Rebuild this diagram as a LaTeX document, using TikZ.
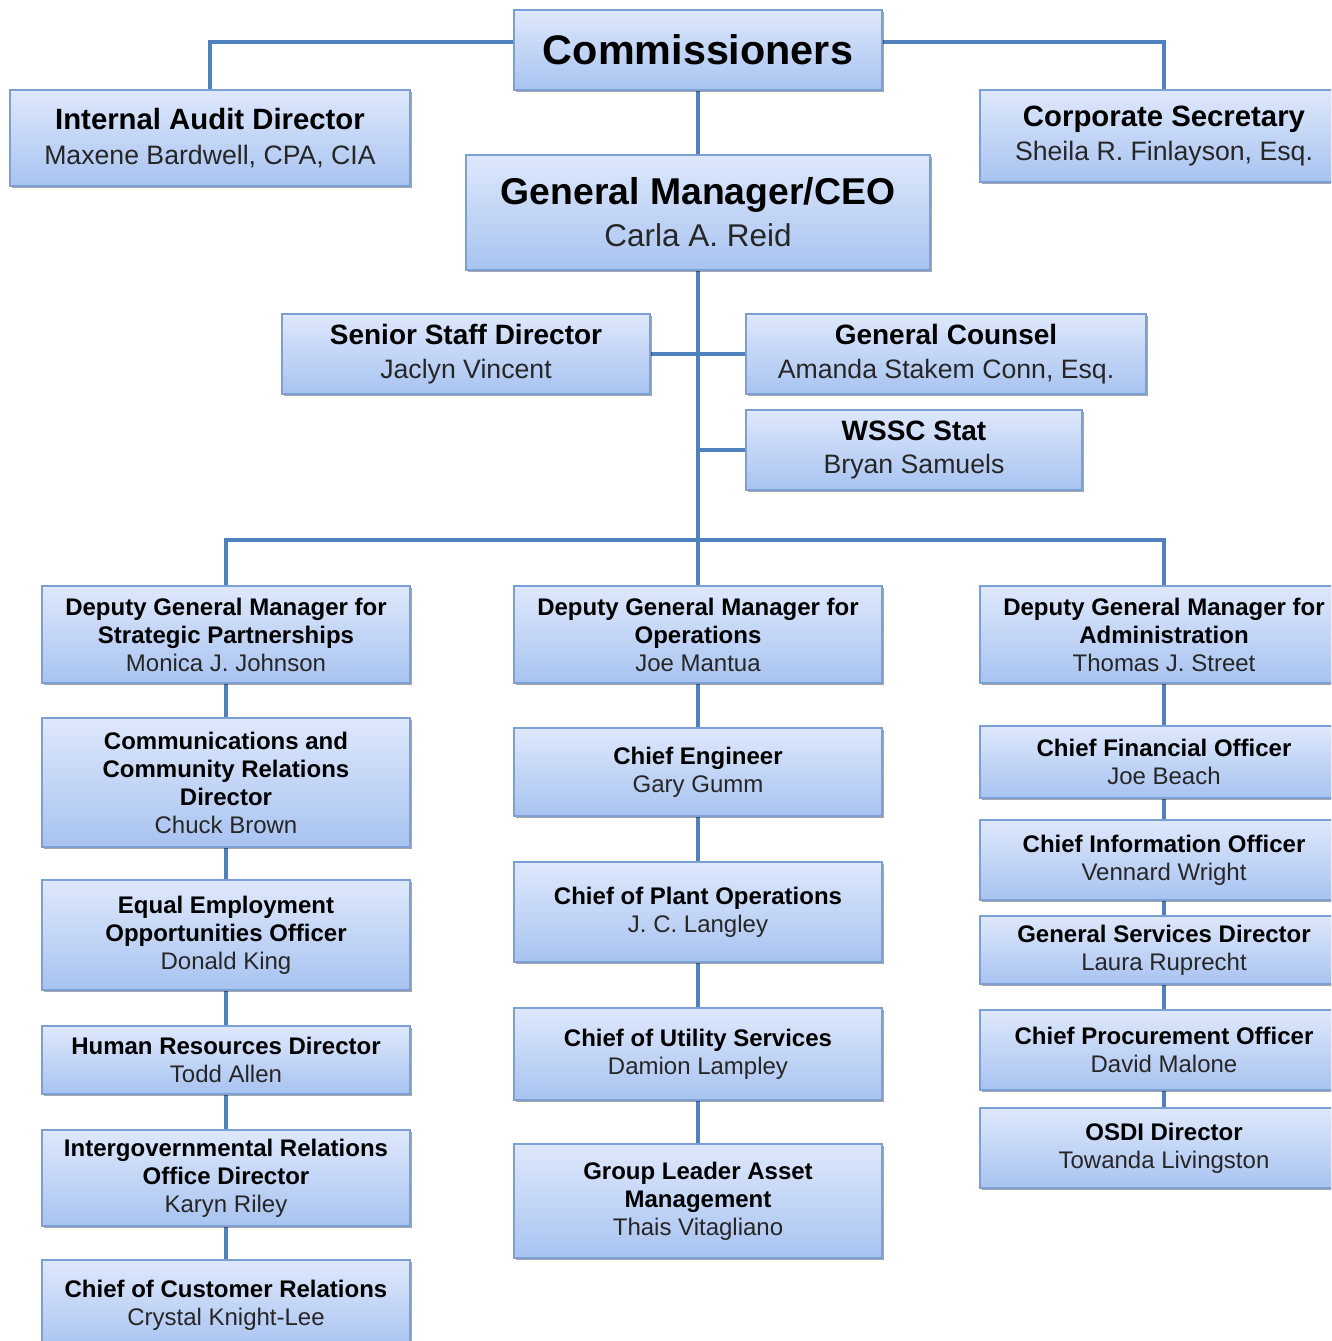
\documentclass[tikz,border=0pt]{standalone}
\usepackage{fontspec}
\setmainfont{Liberation Sans}
\usetikzlibrary{shadows}
\definecolor{btop}{HTML}{DEE8FB}
\definecolor{bbot}{HTML}{A8C3F1}
\definecolor{bline}{HTML}{7CA0D6}
\definecolor{conn}{HTML}{4F81BD}
\definecolor{nametext}{HTML}{262626}
\pgfdeclarelayer{bg}
\pgfsetlayers{bg,main}
\newcommand{\tbx}[1]{\textbf{#1}}
\newcommand{\nmx}[1]{\textcolor{nametext}{#1}}
\newcommand{\tbl}[1]{{\fontsize{22pt}{26pt}\selectfont\bfseries #1}}
\newcommand{\tbm}[1]{{\fontsize{21pt}{25pt}\selectfont\bfseries #1}}
\tikzset{
 box/.style={draw=bline, line width=1.2pt, top color=btop, bottom color=bbot,
   inner sep=0pt, align=center, text=black,
   drop shadow={shadow xshift=1.8pt, shadow yshift=-1.8pt, opacity=0.35, fill=black}},
 sz/.style 2 args={minimum width=#1*0.75pt, minimum height=#2*0.75pt},
 link/.style={draw=conn, line width=3.6pt},
 colf/.style={font=\fontsize{18pt}{21pt}\selectfont},
 topf/.style={font=\fontsize{20pt}{26pt}\selectfont},
 midf/.style={font=\fontsize{20pt}{25pt}\selectfont},
}
\begin{document}
\begin{tikzpicture}[x=0.75pt,y=-0.75pt]
\clip (0,0) rectangle (1331,1341);
% top
\node[box, sz={368}{80}, font=\fontsize{31pt}{36pt}\selectfont\bfseries] (comm) at (698,50) {Commissioners};
\node[box, sz={400}{96}, topf] (iad) at (210,138) {\tbl{Internal Audit Director}\\\nmx{Maxene Bardwell, CPA, CIA}};
\node[box, sz={368}{92}, topf] (cs) at (1164,136) {\tbl{Corporate Secretary}\\\nmx{Sheila R. Finlayson, Esq.}};
\node[box, sz={464}{115}, font=\fontsize{23.6pt}{31.5pt}\selectfont] (gm) at (698,212.5) {{\fontsize{28pt}{31.5pt}\selectfont\bfseries General Manager/CEO}\\\nmx{Carla A. Reid}};
\node[box, sz={368}{80}, midf] (ssd) at (466,354) {\tbm{Senior Staff Director}\\\nmx{Jaclyn Vincent}};
\node[box, sz={400}{80}, midf] (gc) at (946,354) {\tbm{General Counsel}\\\nmx{Amanda Stakem Conn, Esq.}};
\node[box, sz={336}{80}, midf] (wssc) at (914,450) {\tbm{WSSC Stat}\\\nmx{Bryan Samuels}};
\coordinate (bar) at (698,540);
% left column
\node[box, sz={368}{97}, colf] (dsp) at (226,634.5) {\tbx{Deputy General Manager for}\\\tbx{Strategic Partnerships}\\\nmx{Monica J. Johnson}};
\node[box, sz={368}{129}, colf] (ccr) at (226,782.5) {\tbx{Communications and}\\\tbx{Community Relations}\\\tbx{Director}\\\nmx{Chuck Brown}};
\node[box, sz={368}{110}, colf] (eeo) at (226,935) {\tbx{Equal Employment}\\\tbx{Opportunities Officer}\\\nmx{Donald King}};
\node[box, sz={368}{68}, colf] (hr) at (226,1060) {\tbx{Human Resources Director}\\\nmx{Todd Allen}};
\node[box, sz={368}{96}, colf] (igr) at (226,1178) {\tbx{Intergovernmental Relations}\\\tbx{Office Director}\\\nmx{Karyn Riley}};
\node[box, sz={368}{90}, colf] (cust) at (226,1305) {\tbx{Chief of Customer Relations}\\\nmx{Crystal Knight-Lee}};
% middle column
\node[box, sz={368}{97}, colf] (dops) at (698,634.5) {\tbx{Deputy General Manager for}\\\tbx{Operations}\\\nmx{Joe Mantua}};
\node[box, sz={368}{88}, colf] (ce) at (698,772) {\tbx{Chief Engineer}\\\nmx{Gary Gumm}};
\node[box, sz={368}{100}, colf] (cpo) at (698,912) {\tbx{Chief of Plant Operations}\\\nmx{J. C. Langley}};
\node[box, sz={368}{92}, colf] (cus) at (698,1054) {\tbx{Chief of Utility Services}\\\nmx{Damion Lampley}};
\node[box, sz={368}{114}, colf] (glam) at (698,1201) {\tbx{Group Leader Asset}\\\tbx{Management}\\\nmx{Thais Vitagliano}};
% right column
\node[box, sz={368}{97}, colf] (dadm) at (1164,634.5) {\tbx{Deputy General Manager for}\\\tbx{Administration}\\\nmx{Thomas J. Street}};
\node[box, sz={368}{72}, colf] (cfo) at (1164,762) {\tbx{Chief Financial Officer}\\\nmx{Joe Beach}};
\node[box, sz={368}{80}, colf] (cio) at (1164,860) {\tbx{Chief Information Officer}\\\nmx{Vennard Wright}};
\node[box, sz={368}{68}, colf] (gsd) at (1164,950) {\tbx{General Services Director}\\\nmx{Laura Ruprecht}};
\node[box, sz={368}{80}, colf] (cproc) at (1164,1050) {\tbx{Chief Procurement Officer}\\\nmx{David Malone}};
\node[box, sz={368}{80}, colf] (osdi) at (1164,1148) {\tbx{OSDI Director}\\\nmx{Towanda Livingston}};
% connectors
\begin{pgfonlayer}{bg}
\fill[white] (0,0) rectangle (1331,1341);
\draw[link] ([yshift=6pt]comm.west) -| (iad.north);
\draw[link] ([yshift=6pt]comm.east) -| (cs.north);
\draw[link] (comm.south) -- (gm.north);
\draw[link] (gm.south) -- (bar);
\draw[link] (ssd.east) -- (gc.west);
\draw[link] (wssc.west) -- (wssc.west -| gm.south);
\draw[link] (dsp.north) |- (bar) -| (dadm.north);
\draw[link] (bar) -- (dops.north);
\draw[link] (dsp.south) -- (ccr.north);
\draw[link] (ccr.south) -- (eeo.north);
\draw[link] (eeo.south) -- (hr.north);
\draw[link] (hr.south) -- (igr.north);
\draw[link] (igr.south) -- (cust.north);
\draw[link] (dops.south) -- (ce.north);
\draw[link] (ce.south) -- (cpo.north);
\draw[link] (cpo.south) -- (cus.north);
\draw[link] (cus.south) -- (glam.north);
\draw[link] (dadm.south) -- (cfo.north);
\draw[link] (cfo.south) -- (cio.north);
\draw[link] (cio.south) -- (gsd.north);
\draw[link] (gsd.south) -- (cproc.north);
\draw[link] (cproc.south) -- (osdi.north);
\end{pgfonlayer}
\end{tikzpicture}
\end{document}
